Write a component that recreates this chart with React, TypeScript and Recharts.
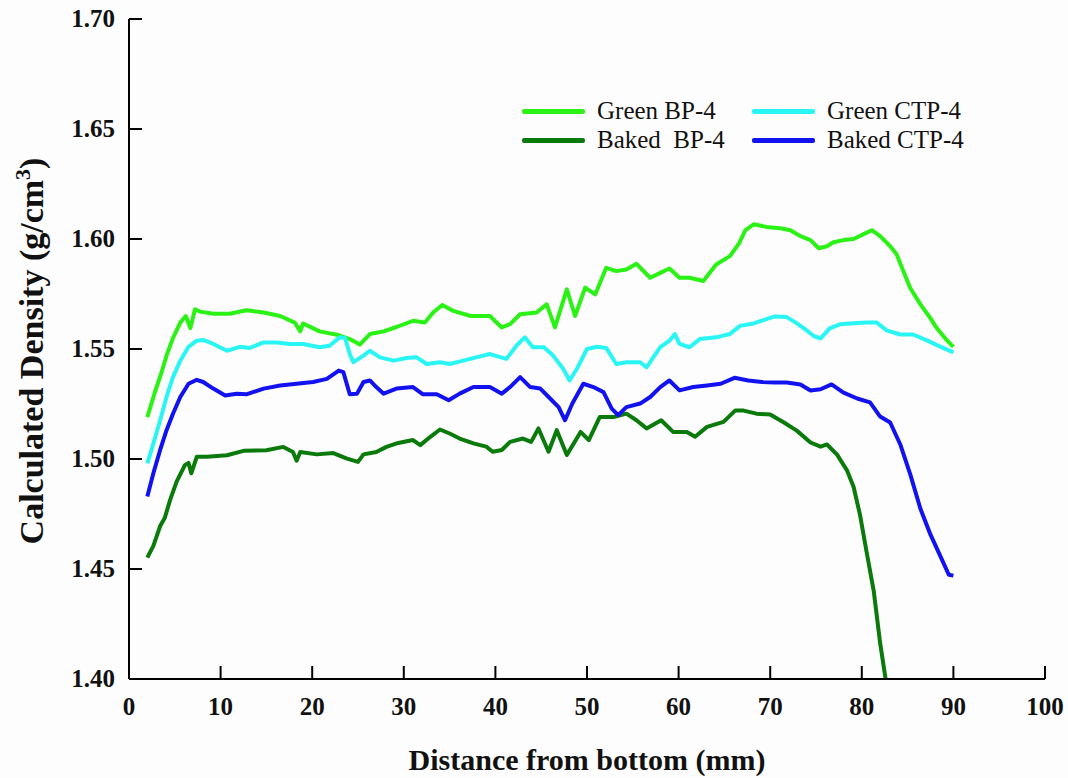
import React from 'react';
import { LineChart, Line, XAxis, YAxis, Label } from 'recharts';

// ---------- data (distance in mm, calculated density in g/cm3) ----------
const xGreenBP = [2.0, 2.8, 3.6, 4.1, 4.8, 5.6, 6.2, 6.7, 7.2, 7.75, 9.2, 11.0, 12.8, 14.7, 16.5, 18.1, 18.7, 19.0, 20.8, 22.7, 24.1, 25.2, 26.3, 27.8, 29.2, 31.0, 32.3, 33.2, 34.2, 35.4, 37.3, 39.4, 40.7, 41.6, 42.7, 44.5, 45.6, 46.5, 47.8, 48.7, 49.8, 50.9, 52.1, 53.2, 54.3, 55.4, 56.9, 58.0, 59.0, 60.1, 61.2, 62.7, 64.1, 65.6, 66.6, 67.3, 68.2, 69.6, 71.1, 72.2, 73.3, 74.4, 75.3, 76.2, 76.9, 78.0, 79.1, 80.2, 81.1, 82.0, 83.1, 83.8, 84.5, 85.3, 86.4, 87.5, 88.2, 89.3, 90.0];
const yGreenBP = [1.519, 1.530, 1.540, 1.547, 1.555, 1.562, 1.565, 1.5595, 1.568, 1.567, 1.566, 1.566, 1.5676, 1.5666, 1.565, 1.562, 1.558, 1.5616, 1.558, 1.5565, 1.5545, 1.552, 1.5568, 1.558, 1.560, 1.5628, 1.562, 1.5666, 1.570, 1.5673, 1.565, 1.565, 1.5598, 1.5613, 1.5658, 1.5666, 1.5703, 1.5598, 1.5771, 1.565, 1.5779, 1.5748, 1.5869, 1.5854, 1.5861, 1.5887, 1.5824, 1.5846, 1.5866, 1.5824, 1.5824, 1.5809, 1.5884, 1.5922, 1.598, 1.604, 1.6067, 1.6055, 1.6049, 1.604, 1.6013, 1.5995, 1.5958, 1.5967, 1.5985, 1.5995, 1.600, 1.6022, 1.604, 1.6013, 1.5967, 1.5931, 1.5858, 1.5776, 1.5703, 1.5639, 1.5594, 1.5539, 1.551];

const xGreenCTP = [2.0, 2.66, 3.4, 4.1, 4.8, 5.6, 6.5, 7.4, 8.1, 9.2, 10.7, 12.1, 13.2, 14.7, 16.1, 17.6, 19.0, 20.8, 21.9, 23.0, 23.6, 24.1, 24.5, 25.6, 26.3, 27.4, 28.9, 30.3, 31.4, 32.5, 33.95, 35.0, 36.5, 37.9, 39.4, 41.2, 42.3, 43.2, 44.1, 45.3, 46.3, 47.4, 48.1, 48.9, 50.0, 51.1, 52.1, 53.2, 54.3, 55.8, 56.5, 58.0, 59.0, 59.6, 60.1, 61.2, 62.3, 64.1, 65.6, 66.7, 68.2, 69.6, 70.5, 71.8, 72.8, 73.8, 74.8, 75.5, 76.5, 77.6, 79.1, 80.5, 81.6, 82.7, 84.2, 85.6, 87.1, 88.5, 90.0];
const yGreenCTP = [1.498, 1.507, 1.5176, 1.5282, 1.5372, 1.5447, 1.551, 1.5538, 1.5541, 1.5523, 1.5492, 1.551, 1.5505, 1.553, 1.553, 1.5523, 1.5523, 1.5508, 1.5515, 1.5553, 1.555, 1.5477, 1.544, 1.547, 1.5492, 1.5462, 1.5447, 1.5459, 1.5462, 1.5432, 1.544, 1.5432, 1.5447, 1.5462, 1.5477, 1.5455, 1.5515, 1.5553, 1.5508, 1.5508, 1.547, 1.541, 1.5357, 1.541, 1.550, 1.551, 1.5505, 1.5432, 1.544, 1.544, 1.5417, 1.5508, 1.5538, 1.5568, 1.5523, 1.5508, 1.5545, 1.5553, 1.5568, 1.5605, 1.5616, 1.5636, 1.5648, 1.5645, 1.562, 1.559, 1.5558, 1.5548, 1.5594, 1.5612, 1.5617, 1.5621, 1.5621, 1.5585, 1.5566, 1.5566, 1.5539, 1.5512, 1.5485];

const xBakedBP = [2.0, 2.66, 3.4, 3.9, 4.5, 5.2, 6.1, 6.5, 6.8, 7.4, 8.5, 10.7, 12.5, 15.0, 16.85, 17.9, 18.3, 18.7, 20.5, 22.3, 23.8, 25.0, 25.6, 27.0, 28.1, 29.4, 31.0, 31.8, 32.9, 33.95, 35.0, 36.1, 37.6, 39.0, 39.7, 40.7, 41.6, 43.0, 43.9, 44.7, 45.8, 46.7, 47.8, 49.3, 50.2, 51.4, 52.9, 54.3, 55.4, 56.5, 58.1, 59.4, 60.9, 61.8, 63.1, 64.9, 66.2, 67.1, 68.5, 70.0, 71.5, 72.9, 74.4, 75.5, 76.2, 77.3, 78.4, 79.1, 79.8, 80.5, 81.3, 82.0, 82.6];
const yBakedBP = [1.4552, 1.4605, 1.4695, 1.4732, 1.4815, 1.4897, 1.4972, 1.4982, 1.4935, 1.501, 1.501, 1.5017, 1.5037, 1.504, 1.5055, 1.5032, 1.4992, 1.5032, 1.5021, 1.5027, 1.5002, 1.4987, 1.5021, 1.5032, 1.5055, 1.5073, 1.5086, 1.5063, 1.5101, 1.5134, 1.5116, 1.5093, 1.5071, 1.5056, 1.5033, 1.5041, 1.5078, 1.5093, 1.5078, 1.5139, 1.5033, 1.5131, 1.5018, 1.5123, 1.5086, 1.5191, 1.5191, 1.5206, 1.5176, 1.5139, 1.5176, 1.5123, 1.5123, 1.5101, 1.5146, 1.5169, 1.5221, 1.522, 1.5206, 1.5202, 1.5166, 1.5129, 1.5075, 1.5056, 1.5066, 1.502, 1.4947, 1.4874, 1.4747, 1.4583, 1.4401, 1.4164, 1.400];

const xBakedCTP = [2.0, 2.66, 3.4, 4.1, 4.8, 5.6, 6.5, 7.4, 8.1, 9.2, 10.5, 11.75, 12.8, 14.7, 16.5, 18.3, 20.1, 21.6, 22.9, 23.4, 24.1, 24.9, 25.6, 26.3, 27.0, 27.8, 29.2, 31.0, 32.1, 33.6, 34.9, 36.1, 37.6, 39.4, 40.7, 41.6, 42.7, 43.8, 44.9, 46.0, 46.9, 47.6, 48.4, 49.6, 50.7, 51.8, 52.7, 53.4, 54.3, 55.8, 56.9, 58.0, 59.0, 60.1, 61.6, 63.1, 64.6, 66.1, 67.6, 69.1, 70.5, 71.8, 73.3, 74.4, 75.5, 76.7, 78.0, 79.5, 80.9, 82.0, 83.1, 84.2, 85.3, 86.4, 87.5, 88.5, 89.5, 90.0];
const yBakedCTP = [1.483, 1.4935, 1.5041, 1.5131, 1.5206, 1.5282, 1.5342, 1.536, 1.535, 1.532, 1.5289, 1.5297, 1.5294, 1.532, 1.5334, 1.5342, 1.535, 1.5364, 1.5402, 1.5395, 1.5294, 1.5297, 1.535, 1.5357, 1.5327, 1.5297, 1.532, 1.5327, 1.5294, 1.5294, 1.5267, 1.5297, 1.5327, 1.5327, 1.5297, 1.5327, 1.5372, 1.5327, 1.532, 1.5274, 1.5236, 1.5176, 1.5252, 1.5342, 1.5327, 1.5304, 1.5229, 1.5199, 1.5236, 1.5252, 1.5282, 1.5327, 1.5357, 1.5312, 1.5327, 1.5334, 1.5342, 1.5369, 1.5357, 1.535, 1.5348, 1.5348, 1.5339, 1.5311, 1.5317, 1.5339, 1.5302, 1.5275, 1.5257, 1.5193, 1.5166, 1.5066, 1.4929, 1.4774, 1.4656, 1.4565, 1.4474, 1.447];

const xTicks = [0, 10, 20, 30, 40, 50, 60, 70, 80, 90, 100];
const yTicks = [1.40, 1.45, 1.50, 1.55, 1.60, 1.65, 1.70];

const seriesNames = ['Green BP-4', 'Green CTP-4', 'Baked  BP-4', 'Baked CTP-4'];
const seriesColors = ['#2af214', '#2af5f5', '#0a7a0a', '#1212f0'];

const toPoints = (xs: number[], ys: number[]) => xs.map((x, i) => ({ x, y: ys[i] }));
const greenBP = toPoints(xGreenBP, yGreenBP);
const greenCTP = toPoints(xGreenCTP, yGreenCTP);
const bakedBP = toPoints(xBakedBP, yBakedBP);
const bakedCTP = toPoints(xBakedCTP, yBakedCTP);

// ---------- layout ----------
const W = 1068;
const H = 778;
const MARGIN = { top: 19, right: 23, bottom: 0, left: 0 };
const Y_AXIS_W = 129;
const X_AXIS_H = 99;
const PLOT_LEFT = MARGIN.left + Y_AXIS_W;
const PLOT_RIGHT = W - MARGIN.right;
const PLOT_TOP = MARGIN.top;
const PLOT_BOTTOM = H - MARGIN.bottom - X_AXIS_H;

const FONT = '"Liberation Serif", "Times New Roman", serif';
const TICK_LEN = 13;

const BottomTick = (props: any) => {
  const { x, payload } = props;
  return (
    <g>
      <line x1={x} y1={PLOT_BOTTOM} x2={x} y2={PLOT_BOTTOM - TICK_LEN} stroke="#000" strokeWidth={2} />
      <text x={x} y={PLOT_BOTTOM + 36} textAnchor="middle" fontFamily={FONT} fontWeight="bold" fontSize={25} fill="#111">
        {payload.value}
      </text>
    </g>
  );
};

const TopTick = (props: any) => {
  const { x } = props;
  return <line x1={x} y1={PLOT_TOP} x2={x} y2={PLOT_TOP + TICK_LEN} stroke="#000" strokeWidth={2} />;
};

const LeftTick = (props: any) => {
  const { y, payload } = props;
  return (
    <g>
      <line x1={PLOT_LEFT} y1={y} x2={PLOT_LEFT + TICK_LEN} y2={y} stroke="#000" strokeWidth={2} />
      <text x={PLOT_LEFT - 14} y={y + 8} textAnchor="end" fontFamily={FONT} fontWeight="bold" fontSize={25} fill="#111">
        {Number(payload.value).toFixed(2)}
      </text>
    </g>
  );
};

const RightTick = (props: any) => {
  const { y } = props;
  return <line x1={PLOT_RIGHT} y1={y} x2={PLOT_RIGHT - TICK_LEN} y2={y} stroke="#000" strokeWidth={2} />;
};

const XTitle = () => (
  <text x={(PLOT_LEFT + PLOT_RIGHT) / 2} y={PLOT_BOTTOM + 91} textAnchor="middle" fontFamily={FONT} fontWeight="bold" fontSize={30} fill="#111">
    Distance from bottom (mm)
  </text>
);

const YTitle = () => {
  const cy = 351;
  const cx = 43;
  return (
    <text transform={`translate(${cx},${cy}) rotate(-90)`} x={0} y={0} textAnchor="middle" fontFamily={FONT} fontWeight="bold" fontSize={34} fill="#111">
      Calculated Density (g/cm<tspan dy={-13} fontSize={22}>3</tspan><tspan dy={13}>)</tspan>
    </text>
  );
};

const LegendBox = () => {
  const rows = [
    [0, 1],
    [2, 3],
  ];
  const colX = [522, 752];
  const rowY = [111, 140];
  return (
    <div style={{ position: 'absolute', left: 0, top: 0, width: W, height: H, pointerEvents: 'none' }}>
      {rows.map((r, ri) =>
        r.map((si, ci) => (
          <div key={si} style={{ position: 'absolute', left: colX[ci], top: rowY[ri] - 15, height: 30, display: 'flex', alignItems: 'center' }}>
            <div style={{ width: 63, height: 5, borderRadius: 2, background: seriesColors[si] }} />
            <span style={{ marginLeft: 12, fontFamily: FONT, fontSize: 25, lineHeight: '30px', color: '#111', whiteSpace: 'pre' }}>{seriesNames[si]}</span>
          </div>
        ))
      )}
    </div>
  );
};

export default function App() {
  return (
    <div style={{ position: 'absolute', left: 0, top: 0, width: W, height: H, background: '#fdfdfd' }}>
      <LineChart width={W} height={H} margin={MARGIN}>
        <XAxis
          xAxisId="b"
          dataKey="x"
          type="number"
          domain={[0, 100]}
          ticks={xTicks}
          allowDataOverflow
          orientation="bottom"
          height={X_AXIS_H}
          axisLine={{ stroke: '#000', strokeWidth: 2 }}
          tickLine={false}
          tick={<BottomTick />}
          interval={0}
        >
          <Label content={<XTitle />} />
        </XAxis>
        <XAxis
          xAxisId="t"
          dataKey="x"
          type="number"
          domain={[0, 100]}
          ticks={xTicks}
          allowDataOverflow
          orientation="top"
          height={0}
          axisLine={{ stroke: '#000', strokeWidth: 2 }}
          tickLine={false}
          tick={<TopTick />}
          interval={0}
        />
        <YAxis
          yAxisId="l"
          type="number"
          domain={[1.4, 1.7]}
          ticks={yTicks}
          allowDataOverflow
          orientation="left"
          width={Y_AXIS_W}
          axisLine={{ stroke: '#000', strokeWidth: 2 }}
          tickLine={false}
          tick={<LeftTick />}
          interval={0}
        >
          <Label content={<YTitle />} />
        </YAxis>
        <YAxis
          yAxisId="r"
          type="number"
          domain={[1.4, 1.7]}
          ticks={yTicks}
          allowDataOverflow
          orientation="right"
          width={0}
          axisLine={{ stroke: '#000', strokeWidth: 2 }}
          tickLine={false}
          tick={<RightTick />}
          interval={0}
        />
        <Line xAxisId="b" yAxisId="l" data={greenBP} dataKey="y" name={seriesNames[0]} stroke={seriesColors[0]} strokeWidth={4} dot={false} isAnimationActive={false} strokeLinejoin="round" />
        <Line xAxisId="b" yAxisId="l" data={greenCTP} dataKey="y" name={seriesNames[1]} stroke={seriesColors[1]} strokeWidth={4} dot={false} isAnimationActive={false} strokeLinejoin="round" />
        <Line xAxisId="b" yAxisId="l" data={bakedBP} dataKey="y" name={seriesNames[2]} stroke={seriesColors[2]} strokeWidth={4} dot={false} isAnimationActive={false} strokeLinejoin="round" />
        <Line xAxisId="b" yAxisId="l" data={bakedCTP} dataKey="y" name={seriesNames[3]} stroke={seriesColors[3]} strokeWidth={4} dot={false} isAnimationActive={false} strokeLinejoin="round" />
      </LineChart>
      <LegendBox />
    </div>
  );
}
